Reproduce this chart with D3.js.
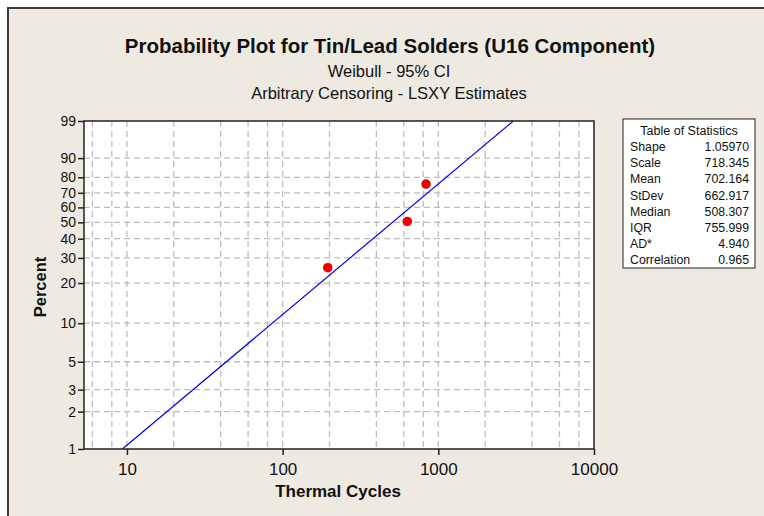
<!DOCTYPE html>
<html>
<head>
<meta charset="utf-8">
<script src="https://cdn.jsdelivr.net/npm/d3@7"></script>
<style>
  body { margin: 0; background: #fff; }
  svg { display: block; font-family: 'Liberation Sans', Arial, sans-serif; }
</style>
</head>
<body>
<svg id="chart" width="764" height="516"></svg>
<script>
// data
const points = [
  { cycles: 195, pct: 25.7 },
  { cycles: 632, pct: 50.6 },
  { cycles: 834, pct: 75.8 }
]
// fitted weibull line end points (at 1% and 99%)
const fitLine = [
  { cycles: 9.35, pct: 1 },
  { cycles: 3030, pct: 99 }
]
const yTicks = [1, 2, 3, 5, 10, 20, 30, 40, 50, 60, 70, 80, 90, 99]
const yGrid = [2, 3, 5, 10, 20, 30, 40, 50, 60, 70, 80, 90]
const xTicks = [10, 100, 1000, 10000]
const xGrid = [6, 8, 10, 20, 40, 60, 80, 100, 200, 400, 600, 800, 1000, 2000, 4000, 6000, 8000]
const statNames = ['Shape', 'Scale', 'Mean', 'StDev', 'Median', 'IQR', 'AD*', 'Correlation']
const statValues = ['1.05970', '718.345', '702.164', '662.917', '508.307', '755.999', '4.940', '0.965']

const X_MIN = 5.3, X_MAX = 10000

const plot = { left: 84, right: 594, top: 121, bottom: 449 }

const svg = d3.select('#chart')

// frame + background
svg.append('rect').attr('x', 8).attr('y', 8).attr('width', 760).attr('height', 512)
  .attr('fill', '#eeeae1').attr('stroke', '#3c3c3c').attr('stroke-width', 2)

// weibull probability transform
const weibit = p => Math.log(-Math.log(1 - p / 100))

const x = d3.scaleLog().domain([X_MIN, X_MAX]).range([plot.left, plot.right])
const yLin = d3.scaleLinear().domain([weibit(1), weibit(99)]).range([plot.bottom, plot.top])
const y = p => yLin(weibit(p))

svg.append('rect')
  .attr('x', plot.left).attr('y', plot.top)
  .attr('width', plot.right - plot.left).attr('height', plot.bottom - plot.top)
  .attr('fill', '#fff')

const grid = svg.append('g').attr('class', 'grid')
  .attr('stroke', '#bdbdbd').attr('stroke-width', 1.3).attr('stroke-dasharray', '6,4')

grid.selectAll('line.v').data(xGrid).join('line').attr('class', 'v')
  .attr('x1', d => x(d)).attr('x2', d => x(d))
  .attr('y1', plot.top).attr('y2', plot.bottom)

grid.selectAll('line.h').data(yGrid).join('line').attr('class', 'h')
  .attr('y1', d => y(d)).attr('y2', d => y(d))
  .attr('x1', plot.left).attr('x2', plot.right)

svg.append('defs').append('clipPath').attr('id', 'clip')
  .append('rect')
  .attr('x', plot.left).attr('y', plot.top)
  .attr('width', plot.right - plot.left).attr('height', plot.bottom - plot.top)

const line = d3.line().x(d => x(d.cycles)).y(d => y(d.pct))
svg.append('path')
  .datum(fitLine)
  .attr('clip-path', 'url(#clip)')
  .attr('d', line)
  .attr('fill', 'none')
  .attr('stroke', '#0000ee')
  .attr('stroke-width', 1.2)

svg.append('g').selectAll('circle').data(points).join('circle')
  .attr('cx', d => x(d.cycles))
  .attr('cy', d => y(d.pct))
  .attr('r', 4.8)
  .attr('fill', '#ee0000')

svg.append('rect')
  .attr('x', plot.left).attr('y', plot.top)
  .attr('width', plot.right - plot.left).attr('height', plot.bottom - plot.top)
  .attr('fill', 'none').attr('stroke', '#222').attr('stroke-width', 1.5)

// axes
const xAxis = svg.append('g')
  .attr('transform', 'translate(0,' + plot.bottom + ')')
  .call(d3.axisBottom(x).tickValues(xTicks).tickFormat(d3.format('d')).tickSize(6).tickSizeOuter(0))
xAxis.select('.domain').remove()
xAxis.selectAll('line').attr('stroke', '#222').attr('stroke-width', 1.5)
xAxis.selectAll('text').attr('font-size', 17).attr('fill', '#111').attr('dy', '1.0em')

const yAxis = svg.append('g')
  .attr('transform', 'translate(' + plot.left + ',0)')
  .call(d3.axisLeft(yLin).tickValues(yTicks.map(weibit)).tickFormat((d, i) => yTicks[i]).tickSize(6).tickSizeOuter(0))
yAxis.select('.domain').remove()
yAxis.selectAll('line').attr('stroke', '#222').attr('stroke-width', 1.5)
yAxis.selectAll('text').attr('font-size', 14).attr('fill', '#111').attr('x', -8)

// titles
svg.append('text').attr('x', 390).attr('y', 53).attr('text-anchor', 'middle')
  .attr('font-size', 20.5).attr('font-weight', 'bold').attr('fill', '#111')
  .text('Probability Plot for Tin/Lead Solders (U16 Component)')
svg.append('text').attr('x', 389).attr('y', 77).attr('text-anchor', 'middle')
  .attr('font-size', 16.5).attr('fill', '#111')
  .text('Weibull - 95% CI')
svg.append('text').attr('x', 389).attr('y', 99).attr('text-anchor', 'middle')
  .attr('font-size', 16.5).attr('fill', '#111')
  .text('Arbitrary Censoring - LSXY Estimates')

svg.append('text').attr('x', 338).attr('y', 497).attr('text-anchor', 'middle')
  .attr('font-size', 17).attr('font-weight', 'bold').attr('fill', '#111')
  .text('Thermal Cycles')
svg.append('text')
  .attr('transform', 'translate(46,287) rotate(-90)')
  .attr('text-anchor', 'middle')
  .attr('font-size', 16.5).attr('font-weight', 'bold').attr('fill', '#111')
  .text('Percent')

// table of statistics
const table = svg.append('g').attr('transform', 'translate(623,119)')
table.append('rect').attr('width', 132).attr('height', 149)
  .attr('fill', '#fff').attr('stroke', '#222').attr('stroke-width', 1)
table.append('text').attr('x', 66).attr('y', 15.5).attr('text-anchor', 'middle')
  .attr('font-size', 12.5).attr('fill', '#111').text('Table of Statistics')
table.selectAll('text.name').data(statNames).join('text').attr('class', 'name')
  .attr('x', 7).attr('y', (d, i) => 32 + i * 16.2)
  .attr('font-size', 12.3).attr('fill', '#111').text(d => d)
table.selectAll('text.val').data(statValues).join('text').attr('class', 'val')
  .attr('x', 126).attr('y', (d, i) => 32 + i * 16.2).attr('text-anchor', 'end')
  .attr('font-size', 12.3).attr('fill', '#111').text(d => d)
</script>
</body>
</html>
